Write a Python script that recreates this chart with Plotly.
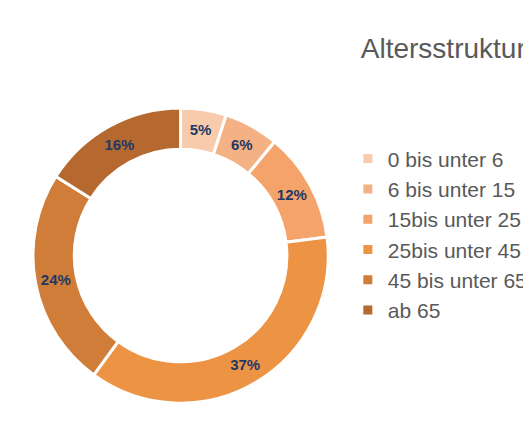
import plotly.graph_objects as go

labels = ['0 bis unter 6', '6 bis unter 15', '15bis unter 25', '25bis unter 45', '45 bis unter 65', 'ab 65']
values = [5, 6, 12, 37, 24, 16]
colors = ['#F8CBAD', '#F4B183', '#F4A46A', '#ED9344', '#D07D3A', '#B5692F']

fig = go.Figure()
fig.add_trace(go.Pie(labels=labels, values=values, hole=0.72, sort=False,
                     direction='clockwise', rotation=0,
                     marker=dict(colors=colors, line=dict(color='white', width=3)),
                     texttemplate='<b>%{percent:.0%}</b>', textposition='inside',
                     insidetextorientation='horizontal',
                     textfont=dict(color='#1F3864', size=15, family='Liberation Sans'),
                     domain=dict(x=[0.045, 0.605], y=[0.11, 0.775])))

fig.update_layout(width=531, height=444, margin=dict(l=0, r=0, t=0, b=0),
                  paper_bgcolor='white', font=dict(family='Liberation Sans'),
                  title=dict(text='Altersstruktur', x=0.975, xanchor='right', y=0.91, yanchor='middle',
                             font=dict(size=28, color='#595959')),
                  legend=dict(x=0.64, y=0.49, yanchor='middle',
                              itemwidth=30, font=dict(size=21, color='#595959')))

fig.write_html("out.html")
